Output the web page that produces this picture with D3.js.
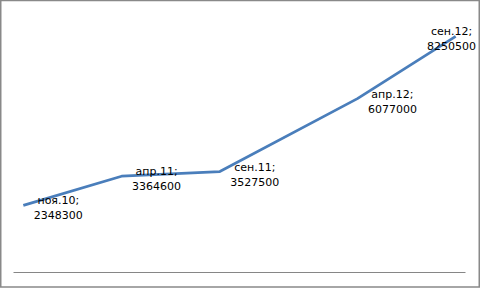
<!DOCTYPE html>
<html>
<head>
<meta charset="utf-8">
<script src="https://cdn.jsdelivr.net/npm/d3@7"></script>
<style>
  html, body { margin: 0; padding: 0; background: #fff; }
  svg { display: block; }
</style>
</head>
<body>
<div id="chart"></div>
<script>
// Данные графика
const dates = ["2010-11-01", "2011-04-01", "2011-09-01", "2012-04-01", "2012-09-01"];
const dateLabels = ["ноя.10", "апр.11", "сен.11", "апр.12", "сен.12"];
const values = [2348300, 3364600, 3527500, 6077000, 8250500];
const yMax = 9000000;

const width = 481;
const height = 289;

const svg = d3.select("#chart")
    .append("svg")
    .attr("width", width)
    .attr("height", height);

// Рамка вокруг диаграммы
svg.append("rect")
    .attr("x", 0.75)
    .attr("y", 0.5)
    .attr("width", 478.5)
    .attr("height", 286.5)
    .attr("fill", "#fff")
    .attr("stroke", "#898989")
    .attr("stroke-width", 1.5);

const parse = d3.timeParse("%Y-%m-%d");
const start = parse(dates[0]);
const points = dates.map((d, i) => ({
    m: d3.timeMonth.count(start, parse(d)),
    label: dateLabels[i],
    value: values[i]
}));
const lastMonth = points[points.length - 1].m;

// Ось дат: по полмесяца отступа с каждой стороны
const x = d3.scaleLinear()
    .domain([-0.5, lastMonth + 0.5])
    .range([13.5, 465.5]);

const y = d3.scaleLinear()
    .domain([0, yMax])
    .range([272.5, 15]);

// Горизонтальная ось
svg.append("line")
    .attr("x1", x.range()[0])
    .attr("x2", x.range()[1])
    .attr("y1", y(0))
    .attr("y2", y(0))
    .attr("stroke", "#868686")
    .attr("stroke-width", 1);

// Линия
const line = d3.line()
    .x(d => x(d.m))
    .y(d => y(d.value));

svg.append("path")
    .datum(points)
    .attr("d", line)
    .attr("fill", "none")
    .attr("stroke", "#4a7ebb")
    .attr("stroke-width", 2.75)
    .attr("stroke-linejoin", "round");

// Подписи данных
const labels = svg.selectAll(".label")
    .data(points)
    .join("text")
    .attr("class", "label")
    .attr("font-family", "DejaVu Sans, sans-serif")
    .attr("font-size", 11)
    .attr("fill", "#000")
    .attr("text-anchor", "middle");

labels.append("tspan")
    .attr("x", d => x(d.m) + 35)
    .attr("y", d => y(d.value) - 1)
    .text(d => d.label + ";");

labels.append("tspan")
    .attr("x", d => x(d.m) + 35)
    .attr("y", d => y(d.value) + 14)
    .text(d => d.value);

// Последняя подпись не должна выходить за рамку
labels.each(function (d) {
    const w = this.getBBox().width;
    let cx = x(d.m) + 35;
    if (cx + w / 2 > width - 5) cx = width - 5 - w / 2;
    d3.select(this).selectAll("tspan").attr("x", cx);
});
</script>
</body>
</html>
